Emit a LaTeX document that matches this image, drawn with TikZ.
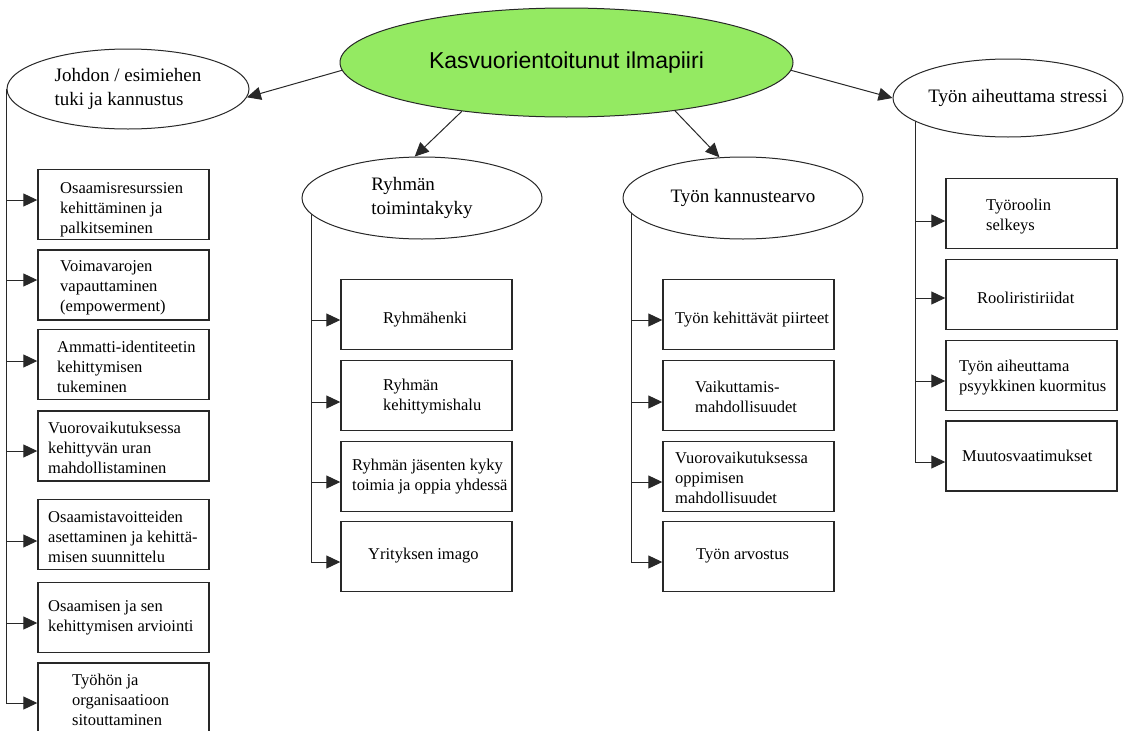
\documentclass[tikz,border=0pt]{standalone}
\usepackage{fontspec}
\setmainfont{Liberation Serif}
\newfontfamily\headfont{Liberation Sans}
\newfontfamily\bodyfont{Liberation Serif}
\usetikzlibrary{arrows.meta,shapes.geometric,calc,backgrounds}
\definecolor{leafgreen}{RGB}{148,234,98}
\definecolor{inkline}{RGB}{40,40,40}

\tikzset{
  core/.style={ellipse, draw=inkline, line width=1pt, fill=leafgreen, inner sep=0pt,
    minimum width=453pt, minimum height=109pt, font=\headfont\fontsize{23}{27}\selectfont},
  topic/.style={ellipse, draw=inkline, line width=1pt, fill=white, inner sep=0pt,
    align=left, font=\bodyfont\fontsize{19}{24}\selectfont},
  topictext/.style={inner sep=0pt, font=\bodyfont\fontsize{19}{24}\selectfont},
  itembox/.style={rectangle, draw=inkline, line width=1.4pt, minimum width=171pt,
    minimum height=70pt, inner sep=0pt},
  itemtext/.style={anchor=west, align=left, inner sep=0pt, font=\bodyfont\fontsize{16.5}{20}\selectfont},
  link/.style={draw=inkline, line width=1pt, -{Triangle[length=14pt,width=13pt]}},
}

\begin{document}
\begin{tikzpicture}[x=1pt,y=-1pt]
\useasboundingbox (0,0) rectangle (1128,731);

% central idea and the four themes
\node[core] (c) at (566.5,62.5) {Kasvuorientoitunut ilmapiiri};
\node[topic, minimum width=242pt, minimum height=80pt] (j) at (128,89)
  {Johdon / esimiehen\\tuki ja kannustus};
\node[topic, minimum width=240pt, minimum height=82pt] (r) at (422,198)
  {Ryhmän\\toimintakyky};
\node[topic, minimum width=240pt, minimum height=82pt] (k) at (743,198)
  {Työn kannustearvo};
\node[topic, minimum width=230pt, minimum height=78pt] (s) at (1008,98) {};
\node[topictext] (st) at (1018,98) {Työn aiheuttama stressi};

% management support
\node[itembox] (l1) at (123.5,204.5) {};
\node[itembox] (l2) at (123.5,285) {};
\node[itembox] (l3) at (123.5,364.5) {};
\node[itembox] (l4) at (123.5,446) {};
\node[itembox] (l5) at (123.5,534.5) {};
\node[itembox] (l6) at (123.5,617.5) {};
\node[itembox] (l7) at (123.5,698) {};
\node[itemtext] (l1t) at (60,210) {Osaamisresurssien\\kehittäminen ja\\palkitseminen};
\node[itemtext] (l2t) at (60,288) {Voimavarojen\\vapauttaminen\\(empowerment)};
\node[itemtext] (l3t) at (57,367) {Ammatti-identiteetin\\kehittymisen\\tukeminen};
\node[itemtext] (l4t) at (48,448) {Vuorovaikutuksessa\\kehittyvän uran\\mahdollistaminen};
\node[itemtext] (l5t) at (48,537) {Osaamistavoitteiden\\asettaminen ja kehittä-\\misen suunnittelu};
\node[itemtext] (l6t) at (48,618) {Osaamisen ja sen\\kehittymisen arviointi};
\node[itemtext] (l7t) at (72,700) {Työhön ja\\organisaatioon\\sitouttaminen};

% group capability
\node[itembox] (r1) at (426.5,314.5) {};
\node[itembox] (r2) at (426.5,395.5) {};
\node[itembox] (r3) at (426.5,476.5) {};
\node[itembox] (r4) at (426.5,556.5) {};
\node[itemtext] (r1t) at (383,320) {Ryhmähenki};
\node[itemtext] (r2t) at (383,397) {Ryhmän\\kehittymishalu};
\node[itemtext] (r3t) at (352,477) {Ryhmän jäsenten kyky\\toimia ja oppia yhdessä};
\node[itemtext] (r4t) at (368,556) {Yrityksen imago};

% motivating value of work
\node[itembox] (k1) at (748.5,314.5) {};
\node[itembox] (k2) at (748.5,395.5) {};
\node[itembox] (k3) at (748.5,476.5) {};
\node[itembox] (k4) at (748.5,556.5) {};
\node[itemtext] (k1t) at (675,320) {Työn kehittävät piirteet};
\node[itemtext] (k2t) at (695,397) {Vaikuttamis-\\mahdollisuudet};
\node[itemtext] (k3t) at (675,478) {Vuorovaikutuksessa\\oppimisen\\mahdollisuudet};
\node[itemtext] (k4t) at (696,556) {Työn arvostus};

% work stress
\node[itembox] (s1) at (1031.5,213.5) {};
\node[itembox] (s2) at (1031.5,294.5) {};
\node[itembox] (s3) at (1031.5,375.5) {};
\node[itembox] (s4) at (1031.5,456) {};
\node[itemtext] (s1t) at (986,217) {Työroolin\\selkeys};
\node[itemtext] (s2t) at (977,298) {Rooliristiriidat};
\node[itemtext] (s3t) at (959,378) {Työn aiheuttama\\psyykkinen kuormitus};
\node[itemtext] (s4t) at (962,456) {Muutosvaatimukset};

% arrow targets on the box edges
\coordinate (a1) at ($(l1.west)+(0,-4.5)$);
\coordinate (a2) at ($(l2.west)+(0,-5)$);
\coordinate (a3) at ($(l3.west)+(0,-3.5)$);
\coordinate (a4) at ($(l4.west)+(0,5)$);
\coordinate (a5) at ($(l5.west)+(0,6.5)$);
\coordinate (a6) at ($(l6.west)+(0,5.5)$);
\coordinate (a7) at ($(l7.west)+(0,5)$);
\coordinate (b1) at ($(r1.west)+(0,5.5)$);
\coordinate (b2) at ($(r2.west)+(0,6.5)$);
\coordinate (b3) at ($(r3.west)+(0,5.5)$);
\coordinate (b4) at ($(r4.west)+(0,5.5)$);
\coordinate (d1) at ($(k1.west)+(0,5.5)$);
\coordinate (d2) at ($(k2.west)+(0,6.5)$);
\coordinate (d3) at ($(k3.west)+(0,5.5)$);
\coordinate (d4) at ($(k4.west)+(0,5.5)$);
\coordinate (e1) at ($(s1.west)+(0,7.5)$);
\coordinate (e2) at ($(s2.west)+(0,3.5)$);
\coordinate (e3) at ($(s3.west)+(0,5.5)$);
\coordinate (e4) at ($(s4.west)+(0,6)$);
\coordinate (rs) at ([xshift=10pt]r.west);
\coordinate (ks) at ([xshift=9pt]k.west);
\coordinate (ss) at ([xshift=23pt]s.west);

\begin{scope}[on background layer]
  % from the central idea to the themes
  \draw[link] (c.182) -- (j.356);
  \draw[link] (c.205) -- (r.100);
  \draw[link] (c.336) -- (k.120);
  \draw[link] (c.358) -- (s.west);

  % spines with their branches
  \draw[link] (j.west) |- (a7);
  \foreach \p in {a1,a2,a3,a4,a5,a6} \draw[link] (\p -| j.west) -- (\p);
  \draw[link] (rs) |- (b4);
  \foreach \p in {b1,b2,b3} \draw[link] (\p -| rs) -- (\p);
  \draw[link] (ks) |- (d4);
  \foreach \p in {d1,d2,d3} \draw[link] (\p -| ks) -- (\p);
  \draw[link] (ss) |- (e4);
  \foreach \p in {e1,e2,e3} \draw[link] (\p -| ss) -- (\p);
\end{scope}
\end{tikzpicture}
\end{document}
